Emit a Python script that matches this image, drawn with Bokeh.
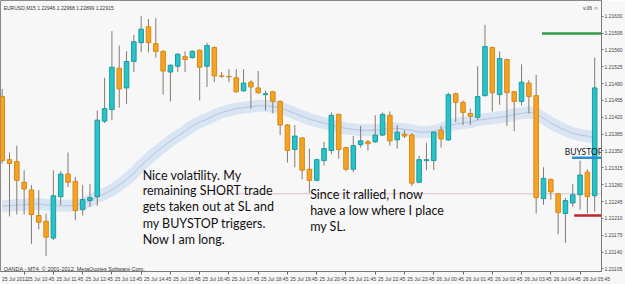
from bokeh.plotting import figure
from bokeh.models import Range1d, FixedTicker, PrintfTickFormatter, ColumnDataSource
from bokeh.core.properties import value
from bokeh.embed import file_html
from bokeh.resources import INLINE

# ---- data (EURUSD M15, one entry per bar) ----
opens = [1.21463, 1.21332, 1.21328, 1.21285, 1.21269, 1.21216, 1.21204, 1.21169, 1.21255, 1.21302,
         1.21287, 1.21228, 1.21247, 1.21255, 1.21412, 1.21436, 1.21522, 1.21481, 1.21536, 1.21575,
         1.21608, 1.21573, 1.21557, 1.21514, 1.21526, 1.21546, 1.21544, 1.21559, 1.21526, 1.21565,
         1.21506, 1.21505, 1.21502, 1.21475, 1.21493, 1.21481, 1.21467, 1.21473, 1.21453, 1.21404,
         1.21353, 1.21377, 1.21312, 1.21289, 1.21330, 1.21351, 1.21426, 1.21357, 1.21312, 1.21363,
         1.21369, 1.21369, 1.21383, 1.21424, 1.21373, 1.21385, 1.21383, 1.21285, 1.21330, 1.21330,
         1.21393, 1.21373, 1.21469, 1.21451, 1.21428, 1.21420, 1.21465, 1.21565, 1.21467, 1.21540,
         1.21473, 1.21453, 1.21491, 1.21465, 1.21251, 1.21291, 1.21261, 1.21220, 1.21242, 1.21259,
         1.21306, 1.21257]
highs = [1.21479, 1.21347, 1.21361, 1.21310, 1.21279, 1.21269, 1.21220, 1.21310, 1.21308, 1.21347,
         1.21296, 1.21279, 1.21281, 1.21434, 1.21502, 1.21599, 1.21569, 1.21557, 1.21591, 1.21630,
         1.21624, 1.21626, 1.21559, 1.21530, 1.21553, 1.21557, 1.21559, 1.21561, 1.21575, 1.21567,
         1.21514, 1.21520, 1.21520, 1.21520, 1.21497, 1.21516, 1.21475, 1.21475, 1.21455, 1.21406,
         1.21404, 1.21379, 1.21355, 1.21334, 1.21369, 1.21430, 1.21428, 1.21359, 1.21381, 1.21402,
         1.21373, 1.21424, 1.21430, 1.21432, 1.21404, 1.21393, 1.21387, 1.21340, 1.21367, 1.21391,
         1.21402, 1.21471, 1.21471, 1.21455, 1.21438, 1.21526, 1.21612, 1.21567, 1.21557, 1.21542,
         1.21475, 1.21530, 1.21497, 1.21508, 1.21316, 1.21293, 1.21263, 1.21253, 1.21281, 1.21330,
         1.21312, 1.21544]
lows = [1.21324, 1.21214, 1.21218, 1.21218, 1.21157, 1.21187, 1.21132, 1.21165, 1.21238, 1.21275,
        1.21206, 1.21216, 1.21234, 1.21236, 1.21408, 1.21414, 1.21440, 1.21448, 1.21514, 1.21555,
        1.21555, 1.21544, 1.21467, 1.21453, 1.21514, 1.21514, 1.21542, 1.21455, 1.21483, 1.21493,
        1.21502, 1.21493, 1.21471, 1.21473, 1.21438, 1.21469, 1.21434, 1.21428, 1.21383, 1.21326,
        1.21316, 1.21291, 1.21263, 1.21287, 1.21320, 1.21343, 1.21334, 1.21308, 1.21306, 1.21357,
        1.21351, 1.21367, 1.21381, 1.21361, 1.21355, 1.21377, 1.21277, 1.21283, 1.21310, 1.21310,
        1.21357, 1.21371, 1.21410, 1.21404, 1.21404, 1.21414, 1.21463, 1.21432, 1.21446, 1.21402,
        1.21391, 1.21444, 1.21428, 1.21220, 1.21238, 1.21249, 1.21177, 1.21159, 1.21234, 1.21228,
        1.21220, 1.21224]
closes = [1.21330, 1.21324, 1.21289, 1.21271, 1.21218, 1.21202, 1.21171, 1.21257, 1.21302, 1.21285,
          1.21226, 1.21249, 1.21253, 1.21414, 1.21438, 1.21524, 1.21479, 1.21536, 1.21577, 1.21603,
          1.21575, 1.21557, 1.21516, 1.21528, 1.21551, 1.21540, 1.21557, 1.21524, 1.21569, 1.21506,
          1.21505, 1.21504, 1.21473, 1.21491, 1.21483, 1.21471, 1.21469, 1.21453, 1.21404, 1.21351,
          1.21381, 1.21310, 1.21289, 1.21332, 1.21355, 1.21424, 1.21353, 1.21312, 1.21361, 1.21371,
          1.21365, 1.21383, 1.21426, 1.21371, 1.21389, 1.21381, 1.21283, 1.21332, 1.21332, 1.21389,
          1.21375, 1.21467, 1.21451, 1.21430, 1.21422, 1.21463, 1.21567, 1.21471, 1.21542, 1.21471,
          1.21453, 1.21493, 1.21463, 1.21253, 1.21293, 1.21265, 1.21222, 1.21247, 1.21259, 1.21300,
          1.21255, 1.21481]
ma = [1.21236, 1.21236, 1.21238, 1.21238, 1.21240, 1.21240, 1.21238, 1.21238, 1.21236, 1.21236,
      1.21238, 1.21240, 1.21246, 1.21255, 1.21261, 1.21269, 1.21279, 1.21291, 1.21304, 1.21320,
      1.21334, 1.21347, 1.21359, 1.21371, 1.21381, 1.21391, 1.21402, 1.21410, 1.21416, 1.21424,
      1.21430, 1.21434, 1.21438, 1.21440, 1.21442, 1.21444, 1.21444, 1.21442, 1.21440, 1.21434,
      1.21428, 1.21422, 1.21416, 1.21412, 1.21408, 1.21404, 1.21400, 1.21397, 1.21395, 1.21393,
      1.21393, 1.21393, 1.21395, 1.21397, 1.21397, 1.21395, 1.21393, 1.21389, 1.21389, 1.21391,
      1.21395, 1.21402, 1.21406, 1.21408, 1.21410, 1.21414, 1.21416, 1.21418, 1.21420, 1.21422,
      1.21426, 1.21428, 1.21430, 1.21428, 1.21418, 1.21408, 1.21400, 1.21393, 1.21387, 1.21383,
      1.21381, 1.21377]

time_labels = ["25 Jul 2012", "25 Jul 10:45", "25 Jul 11:45", "25 Jul 12:45", "25 Jul 13:45",
               "25 Jul 14:45", "25 Jul 15:45", "25 Jul 16:45", "25 Jul 17:45", "25 Jul 18:45",
               "25 Jul 19:45", "25 Jul 20:45", "25 Jul 21:45", "25 Jul 22:45", "25 Jul 23:45",
               "26 Jul 00:45", "26 Jul 01:45", "26 Jul 02:45", "26 Jul 03:45", "26 Jul 04:45",
               "26 Jul 05:45"]
time_label_bars = [-0.5, 3, 7, 11, 15, 19, 23, 27, 31, 35, 39, 43, 47, 51, 55, 59, 63, 67, 71, 75, 79]
price_ticks = [1.21630, 1.21595, 1.21560, 1.21525, 1.21490, 1.21455, 1.21420, 1.21385,
               1.21350, 1.21315, 1.21280, 1.21245, 1.21210, 1.21175, 1.21140, 1.21105]

level_names = ["target", "buystop", "stoploss", "old_sl"]
level_prices = [1.21594, 1.21336, 1.21216, 1.21261]
level_start_bars = [73.8, 77.9, 78.2, 28.8]
level_colors = ["#2f9a47", "#2a8fd2", "#c0262d", "#dcc0d2"]
level_widths = [2.5, 2.5, 2.5, 1]

note1_lines = ["Nice volatility. My", "remaining SHORT trade", "gets taken out at SL and",
               "my BUYSTOP triggers.", "Now I am long."]
note1_x = 19.2
note1_y = [1.21300, 1.21267, 1.21234, 1.21200, 1.21167]
note2_lines = ["Since it rallied, I now", "have a low where I place", "my SL."]
note2_x = 42.1
note2_y = [1.21259, 1.21226, 1.21193]
buystop_label = ("BUYSTOP", 76.9, 1.21348)

header_text = "EURUSD,M15  1.22946 1.22968 1.22899 1.22915"
copyright_text = "OANDA - MT4, \u00a9 2001-2012, MetaQuotes Software Corp."

# ---- figure ----
n = len(opens)
bars = list(range(n))
up_fill, up_line = "#27c3c8", "#1a9ca1"
dn_fill, dn_line = "#f7a31f", "#d4891b"

src = ColumnDataSource(dict(
    x=bars, o=opens, h=highs, l=lows, c=closes,
    top=[max(a, b) for a, b in zip(opens, closes)],
    bot=[min(a, b) for a, b in zip(opens, closes)],
    fill=[up_fill if c >= o else dn_fill for o, c in zip(opens, closes)],
    edge=[up_line if c >= o else dn_line for o, c in zip(opens, closes)],
))

p = figure(width=625, height=284, output_backend="svg", toolbar_location=None,
           x_range=Range1d(-0.23, 81.93), y_range=Range1d(1.210996, 1.216626),
           y_axis_location="right", min_border=0)
p.background_fill_color = "#f7f7f7"
p.border_fill_color = "#f7f7f7"
p.outline_line_color = "#8a8a8a"
p.grid.visible = False

# moving-average band
p.line(bars, ma, line_width=12, line_color="#d9e5f3", line_cap="butt")
p.line(bars, ma, line_width=0.8, line_color="#a9bdd8")

# old stop-loss line behind candles
p.segment(x0="x0", y0="y", x1="x1", y1="y", line_color="color", line_width="w",
          source=ColumnDataSource(dict(x0=level_start_bars[3:], x1=[90], y=level_prices[3:],
                                       color=level_colors[3:], w=level_widths[3:])))

# candles
p.segment(x0="x", y0="l", x1="x", y1="h", line_color="#857b70", line_width=1, source=src)
p.vbar(x="x", width=0.62, top="top", bottom="bot", fill_color="fill", line_color="edge",
       line_width=1, source=src)

# order levels
p.segment(x0="x0", y0="y", x1="x1", y1="y", line_color="color", line_width="w",
          source=ColumnDataSource(dict(x0=level_start_bars[:3], x1=[90] * 3, y=level_prices[:3],
                                       color=level_colors[:3], w=level_widths[:3])))

# notes
note_font = value("Lato")
p.text(x=[note1_x] * len(note1_lines), y=note1_y, text=note1_lines, text_font=note_font,
       text_font_size="12.5px", text_color="#111111", text_baseline="alphabetic")
p.text(x=[note2_x] * len(note2_lines), y=note2_y, text=note2_lines, text_font=note_font,
       text_font_size="12.5px", text_color="#111111", text_baseline="alphabetic")
p.text(x=[buystop_label[1]], y=[buystop_label[2]], text=[buystop_label[0]], text_font=note_font,
       text_font_size="8.5px", text_color="#111111", text_baseline="alphabetic")

small_font = value("Liberation Sans")
p.text(x=[0.2], y=[1.21647], text=[header_text], text_font=small_font, text_font_size="5px",
       text_color="#333333", text_baseline="alphabetic")
p.text(x=[79.4], y=[1.21647], text=["v.06 \u263a"], text_font=small_font, text_font_size="5px",
       text_color="#333333", text_baseline="alphabetic")
p.text(x=[0.2], y=[1.21104], text=[copyright_text], text_font=small_font, text_font_size="5.5px",
       text_color="#333333", text_baseline="alphabetic")

# axes
label_shift = 2.25
major = [b + label_shift for b in time_label_bars]
p.xaxis.ticker = FixedTicker(ticks=major, minor_ticks=time_label_bars[1:])
p.xaxis.major_label_overrides = {m: t for m, t in zip(major, time_labels)}
p.xaxis.major_tick_out = 0
p.xaxis.major_tick_in = 0
p.xaxis.minor_tick_out = 3
p.xaxis.minor_tick_in = 0
p.xaxis.minor_tick_line_color = "#666666"
p.xaxis.major_label_standoff = 1
p.xaxis.major_label_text_font = "Liberation Sans"
p.xaxis.major_label_text_font_size = "5px"
p.xaxis.major_label_text_color = "#444444"
p.xaxis.axis_line_color = "#7a7a7a"

p.yaxis.ticker = FixedTicker(ticks=price_ticks)
p.yaxis.formatter = PrintfTickFormatter(format="%.5f")
p.yaxis.major_tick_out = 2
p.yaxis.major_tick_in = 0
p.yaxis.minor_tick_out = 0
p.yaxis.minor_tick_in = 0
p.yaxis.major_tick_line_color = "#7a7a7a"
p.yaxis.major_label_standoff = 1
p.yaxis.major_label_text_font = "Liberation Sans"
p.yaxis.major_label_text_font_size = "5px"
p.yaxis.major_label_text_color = "#444444"
p.yaxis.axis_line_color = "#7a7a7a"

open("out.html", "w").write(file_html(p, INLINE))
